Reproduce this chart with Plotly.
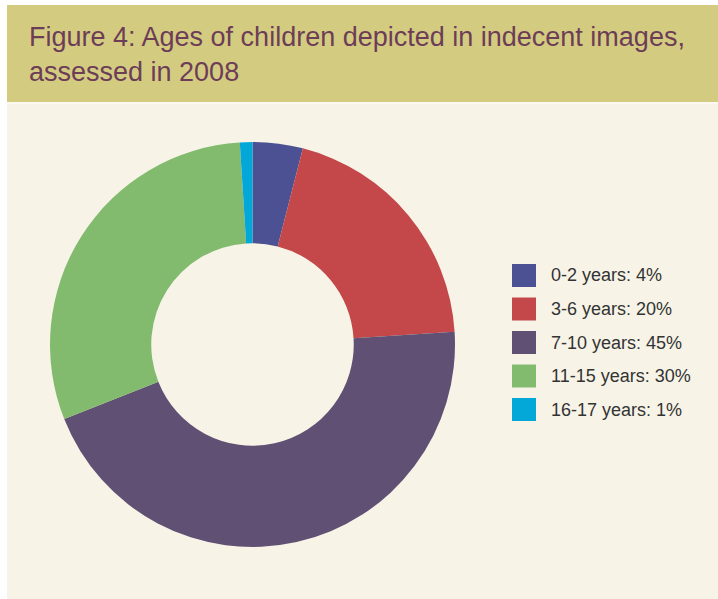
import plotly.graph_objects as go

# Age groups and their share of assessed images (%)
age_groups = ["0-2 years", "3-6 years", "7-10 years", "11-15 years", "16-17 years"]
shares = [4, 20, 45, 30, 1]
slice_colors = ["#4b5193", "#c4474a", "#605073", "#82bb6e", "#03a7d8"]

title_text = "Figure 4: Ages of children depicted in indecent images,<br>assessed in 2008"

W, H = 718, 599
BAND = "#d3cc80"
PANEL = "#f7f4e7"

fig = go.Figure()

fig.add_trace(go.Pie(
    labels=age_groups,
    values=shares,
    marker=dict(colors=slice_colors, line=dict(width=0)),
    hole=0.5,
    sort=False,
    direction="clockwise",
    rotation=0,
    textinfo="none",
    hoverinfo="label+percent",
    showlegend=False,
    domain=dict(x=[50 / W, 455 / W], y=[(H - 547) / H, (H - 142) / H]),
))

def px_x(v):
    return v / W

def px_y(v):
    return 1 - v / H

shapes = [
    # cream panel
    dict(type="rect", xref="paper", yref="paper", layer="below",
         x0=px_x(7), x1=1, y0=0, y1=px_y(5),
         fillcolor=PANEL, line=dict(width=0)),
    # title band
    dict(type="rect", xref="paper", yref="paper", layer="below",
         x0=px_x(7), x1=1, y0=px_y(102), y1=px_y(5),
         fillcolor=BAND, line=dict(width=0)),
    # thin light rule under the band
    dict(type="rect", xref="paper", yref="paper", layer="below",
         x0=px_x(7), x1=1, y0=px_y(104), y1=px_y(102),
         fillcolor="#fbf9f0", line=dict(width=0)),
]

annotations = [
    dict(text=title_text, xref="paper", yref="paper",
         x=px_x(27), y=px_y(55), xanchor="left", yanchor="middle",
         align="left", showarrow=False,
         font=dict(family="Liberation Sans, Arial, sans-serif", size=27, color="#6d3d58")),
]

# Legend: swatches with "label: value%" beside them
row0, row_gap = 275.5, 33.5
for i, (lab, val, col) in enumerate(zip(age_groups, shares, slice_colors)):
    cy = row0 + i * row_gap
    shapes.append(dict(type="rect", xref="paper", yref="paper",
                       x0=px_x(512), x1=px_x(536),
                       y0=px_y(cy + 11.5), y1=px_y(cy - 11.5),
                       fillcolor=col, line=dict(width=0)))
    annotations.append(dict(text=f"{lab}: {val}%", xref="paper", yref="paper",
                            x=px_x(549), y=px_y(cy), xanchor="left", yanchor="middle",
                            showarrow=False,
                            font=dict(family="Liberation Sans, Arial, sans-serif",
                                      size=18, color="#333333")))

fig.update_layout(
    width=W, height=H,
    margin=dict(l=0, r=0, t=0, b=0),
    paper_bgcolor="white",
    plot_bgcolor="white",
    shapes=shapes,
    annotations=annotations,
)

fig.write_html("out.html")
